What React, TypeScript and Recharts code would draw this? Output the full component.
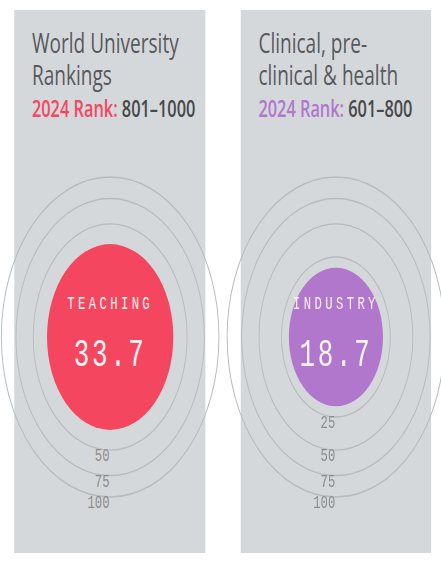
import React from "react";
import { Scatter, ScatterChart, XAxis, YAxis, ZAxis } from "recharts";

const titleLines = [
  ["World University", "Rankings"],
  ["Clinical, pre-", "clinical & health"],
];
const rankYears = ["2024", "2024"];
const rankRanges = ["801–1000", "601–800"];
const metricNames = ["TEACHING", "INDUSTRY"];
const metricScores = [33.7, 18.7];
const accentColors = ["#f4475f", "#b077cd"];
const ringLevels = [25, 50, 75, 100];

// the reference is squashed horizontally, so lay out wide and squeeze
const SQUEEZE = 0.68;
const CHART = 380;
const MAX_R = 160;

const monoFont = "'Liberation Mono', 'DejaVu Sans Mono', monospace";

function radiusOf(props: any) {
  if (props.size != null) return Math.sqrt(props.size / Math.PI);
  return (props.width || 0) / 2;
}

function RingShape(props: any) {
  const { cx, cy, payload } = props;
  const r = radiusOf(props);
  return (
    <g>
      <circle cx={cx} cy={cy} r={r} fill="none" stroke="#b8bbbe" strokeWidth={1.4} />
      <text
        x={cx - 1}
        y={cy + r + 11}
        textAnchor="end"
        fontFamily={monoFont}
        fontSize={18}
        fill="#8c8d8f"
      >
        {payload.z}
      </text>
    </g>
  );
}

function makeScoreShape(color: string) {
  return (props: any) => {
    const { cx, cy, payload } = props;
    const r = radiusOf(props);
    return (
      <g>
        <circle cx={cx} cy={cy} r={r} fill={color} />
        <text
          x={cx}
          y={cy - 28}
          textAnchor="middle"
          fontFamily={monoFont}
          fontSize={18}
          letterSpacing={5}
          fill="#fbf3f3"
        >
          {payload.name}
        </text>
        <text
          x={cx}
          y={cy + 29}
          textAnchor="middle"
          fontFamily={monoFont}
          fontSize={38}
          letterSpacing={4}
          fill="#fbf3f3"
        >
          {payload.z}
        </text>
      </g>
    );
  };
}

function Panel({ i, left, width }: { i: number; left: number; width: number }) {
  const rings = ringLevels.map((z) => ({ x: 0.5, y: 0.5, z }));
  const score = [{ x: 0.5, y: 0.5, z: metricScores[i], name: metricNames[i] }];
  return (
    <div
      style={{
        position: "absolute",
        left,
        top: 10,
        width,
        height: 543,
        background: "#d5d8db",
        overflow: "visible",
      }}
    >
      <div
        style={{
          position: "absolute",
          left: 26,
          top: 16,
          fontFamily: "'Open Sans', sans-serif",
          color: "#58595b",
        }}
      >
        <div style={{ fontSize: 28, lineHeight: "32px", whiteSpace: "pre-line" }}>
          {titleLines[i].join("\n")}
        </div>
        <div
          style={{
            marginTop: 4,
            fontSize: 24,
            lineHeight: "28px",
            fontWeight: 600,
            whiteSpace: "nowrap",
          }}
        >
          <span style={{ color: accentColors[i] }}>{rankYears[i]} Rank:</span>{" "}
          <span style={{ color: "#47484a" }}>{rankRanges[i]}</span>
        </div>
      </div>
      <div
        style={{
          position: "absolute",
          left: width / 2 - CHART / 2,
          top: 327 - CHART / 2,
        }}
      >
        <ScatterChart
          width={CHART}
          height={CHART}
          margin={{ top: 0, right: 0, bottom: 0, left: 0 }}
          style={{ overflow: "visible" }}
        >
          <XAxis type="number" dataKey="x" domain={[0, 1]} hide />
          <YAxis type="number" dataKey="y" domain={[0, 1]} hide />
          <ZAxis type="number" dataKey="z" domain={[0, 100]} range={[0, Math.PI * MAX_R * MAX_R]} />
          <Scatter data={rings} shape={RingShape} isAnimationActive={false} />
          <Scatter data={score} shape={makeScoreShape(accentColors[i])} isAnimationActive={false} />
        </ScatterChart>
      </div>
    </div>
  );
}

export default function App() {
  return (
    <div
      style={{
        position: "absolute",
        left: 0,
        top: 0,
        width: 441 / SQUEEZE,
        height: 563,
        background: "#ffffff",
        transform: `scaleX(${SQUEEZE})`,
        transformOrigin: "0 0",
      }}
    >
      <Panel i={0} left={21} width={281} />
      <Panel i={1} left={354} width={280} />
    </div>
  );
}
